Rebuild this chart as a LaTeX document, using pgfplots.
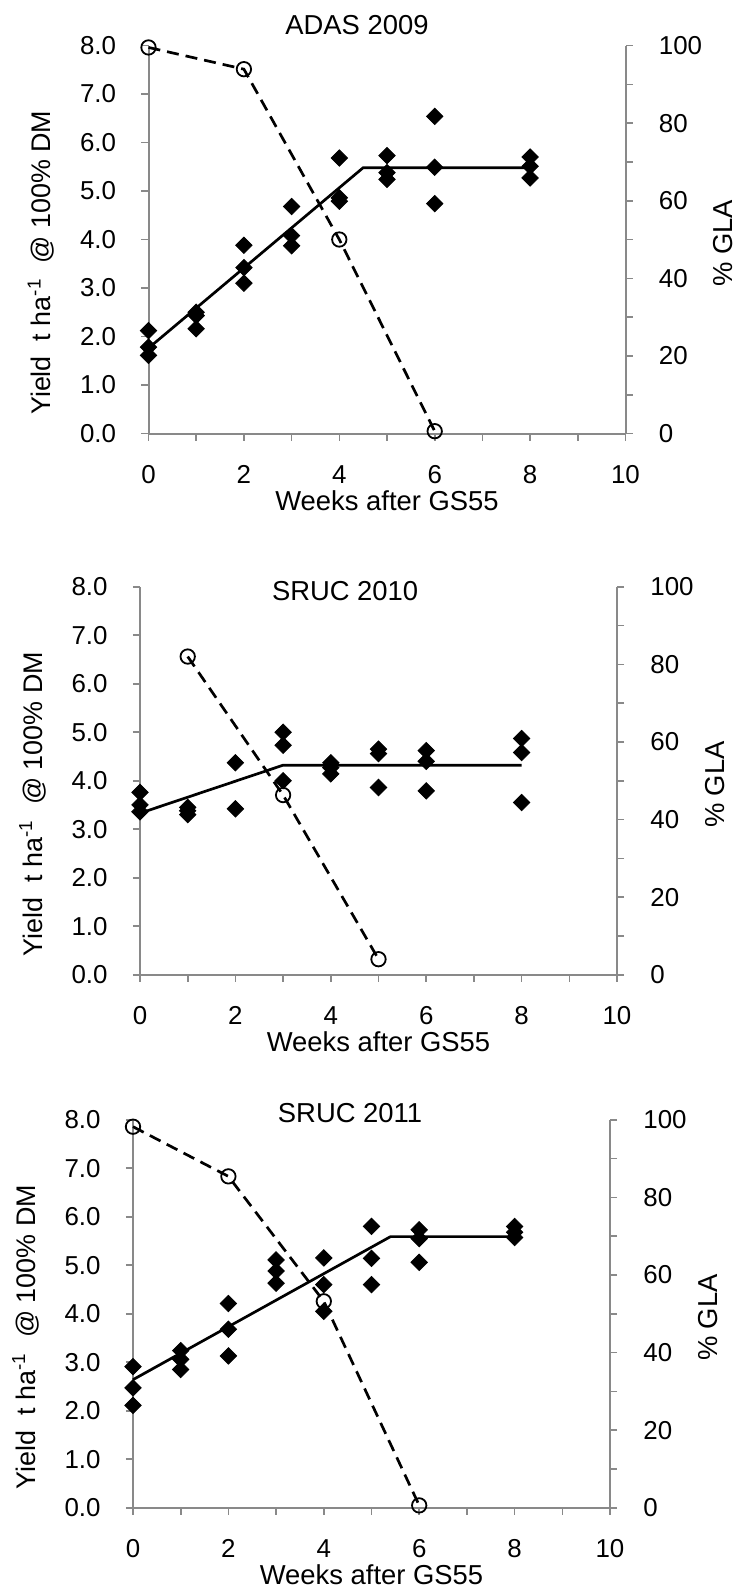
\documentclass[border=0pt]{standalone}
\usepackage{fontspec}
\setmainfont{Liberation Sans}
\usepackage{pgfplots}
\pgfplotsset{compat=1.18}
\definecolor{axisgray}{HTML}{898989}

% 1 px of the 736x1592 reference = 0.5bp
\pgfplotsset{
  panel/.style={
    scale only axis, width=238.5bp, height=194bp,
    xmin=0, xmax=10, clip=false, anchor=south west,
    axis line style={-, axisgray, line width=1bp},
    tick align=outside,
    major tick length=3.5bp, minor tick length=3.5bp,
    every tick/.style={axisgray, line width=0.8bp},
    tick label style={font=\fontsize{13}{15}\selectfont, black},
    /pgf/number format/assume math mode=true,
  },
  yieldax/.style={panel,
    axis x line*=bottom, axis y line*=left,
    ymin=0, ymax=8, ytick={0,1,...,8},
    xtick={0,2,...,10}, minor xtick={1,3,...,9},
    yticklabel style={anchor=east, inner sep=0pt, xshift=-12.5bp,
      /pgf/number format/.cd, fixed, fixed zerofill, precision=1},
    xticklabel style={anchor=center, inner sep=0pt, yshift=-17bp},
    xlabel={Weeks after GS55},
    ylabel={Yield\ \ t ha\textsuperscript{-1}\ \ @ 100\% DM},
    every axis x label/.style={at={(axis description cs:0.5,-0.173)}, anchor=center,
      font=\fontsize{13.75}{16}\selectfont},
    every axis y label/.style={at={(axis description cs:-0.225,0.44)}, rotate=90,
      anchor=center, font=\fontsize{13.5}{16}\selectfont},
  },
  glaax/.style={panel,
    axis x line=none, axis y line*=right,
    ymin=0, ymax=100, ytick={0,20,...,100}, minor ytick={10,30,...,90},
    yticklabel style={anchor=west, inner sep=0pt, xshift=13bp},
    ylabel={\% GLA},
    every axis y label/.style={at={(axis description cs:1.205,0.49)}, rotate=90,
      anchor=center, font=\fontsize{13.75}{16}\selectfont},
  },
  ptitle/.style 2 args={title={#1},
    every axis title/.style={at={(axis description cs:#2)}, anchor=center,
      font=\fontsize{13.75}{16}\selectfont}},
  obs/.style={only marks, mark=square*, mark size=2.9bp,
    mark options={rotate=45, fill=black, draw=black}},
  fit/.style={black, line width=1.35bp, no markers},
  gla/.style={black, line width=1.35bp, dash pattern=on 6bp off 3.5bp,
    mark=o, mark size=3.6bp, mark options={solid, line width=0.9bp}},
}

\begin{document}
\begin{tikzpicture}
\useasboundingbox (0,0) rectangle (368bp,-796bp);

% ---- ADAS 2009 ----
\begin{axis}[yieldax, at={(74.25bp,-216.75bp)}, ptitle={ADAS 2009}{0.437,1.052}]
\addplot[obs] coordinates {
  (0,2.12) (0,1.78) (0,1.61) (1,2.50) (1,2.43) (1,2.16)
  (2,3.88) (2,3.42) (2,3.10) (3,4.68) (3,4.08) (3,3.87)
  (4,5.68) (4,4.86) (4,4.79) (5,5.73) (5,5.38) (5,5.24)
  (6,6.54) (6,5.49) (6,4.74) (8,5.70) (8,5.51) (8,5.27)
};
\addplot[fit] coordinates {(0,1.76) (4.5,5.48) (8,5.48)};
\end{axis}
\begin{axis}[glaax, at={(74.25bp,-216.75bp)}]
\addplot[gla] coordinates {(0,99.5) (2,93.9) (4,50) (6,0.6)};
\end{axis}

% ---- SRUC 2010 ----
\begin{axis}[yieldax, at={(70bp,-487.35bp)}, ptitle={SRUC 2010}{0.43,0.989}]
\addplot[obs] coordinates {
  (0,3.76) (0,3.50) (0,3.36) (1,3.45) (1,3.38) (1,3.30)
  (2,4.37) (2,3.42) (3,5.00) (3,4.73) (3,4.00)
  (4,4.37) (4,4.27) (4,4.14) (5,4.65) (5,4.56) (5,3.86)
  (6,4.62) (6,4.40) (6,3.79) (8,4.87) (8,4.58) (8,3.55)
};
\addplot[fit] coordinates {(0,3.33) (3,4.32) (8,4.32)};
\end{axis}
\begin{axis}[glaax, at={(70bp,-487.35bp)}]
\addplot[gla] coordinates {(1,82) (3,46.3) (5,4)};
\end{axis}

% ---- SRUC 2011 ----
\begin{axis}[yieldax, at={(66.5bp,-753.85bp)}, ptitle={SRUC 2011}{0.455,1.016}]
\addplot[obs] coordinates {
  (0,2.91) (0,2.47) (0,2.11) (1,3.24) (1,3.06) (1,2.85)
  (2,4.21) (2,3.68) (2,3.13) (3,5.11) (3,4.88) (3,4.63)
  (4,5.15) (4,4.60) (4,4.05) (5,5.80) (5,5.14) (5,4.60)
  (6,5.73) (6,5.55) (6,5.06) (8,5.80) (8,5.68) (8,5.57)
};
\addplot[fit] coordinates {(0,2.64) (5.4,5.59) (8,5.59)};
\end{axis}
\begin{axis}[glaax, at={(66.5bp,-753.85bp)}]
\addplot[gla] coordinates {(0,98.2) (2,85.4) (4,53.2) (6,0.6)};
\end{axis}
\end{tikzpicture}
\end{document}
